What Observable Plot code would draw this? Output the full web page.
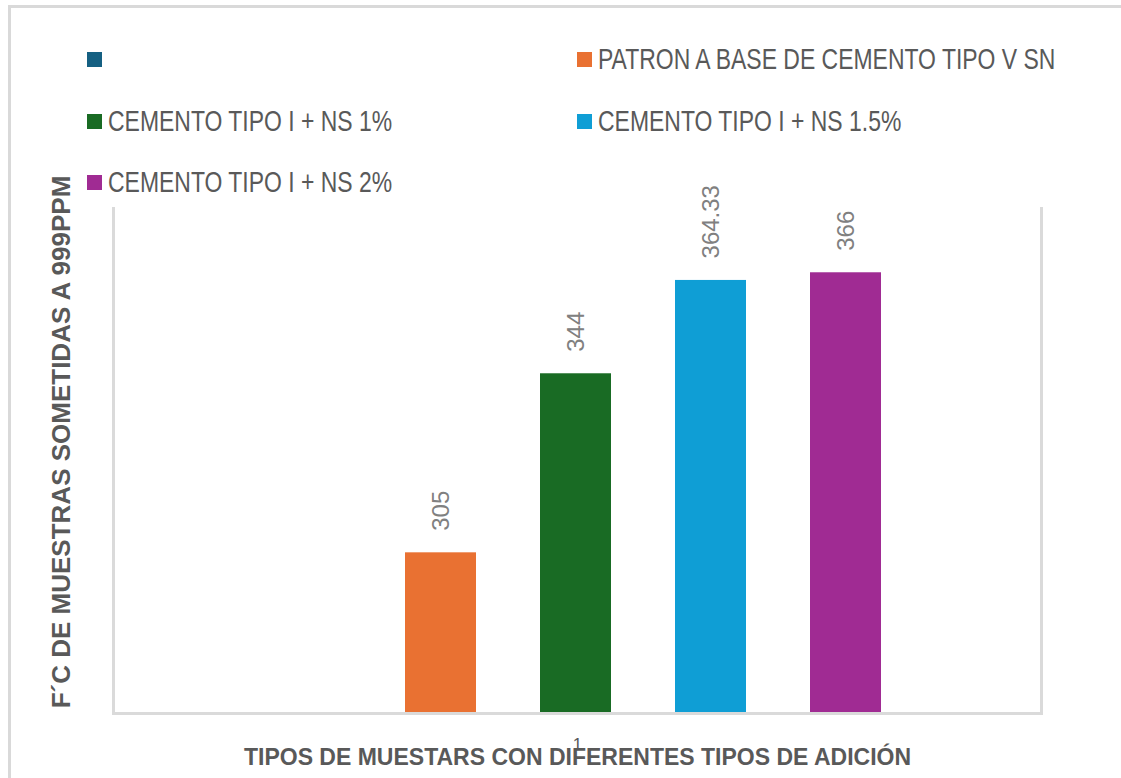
<!DOCTYPE html>
<html><head><meta charset="utf-8">
<script src="https://cdn.jsdelivr.net/npm/d3@7"></script>
<script src="https://cdn.jsdelivr.net/npm/@observablehq/plot@0.6"></script>
<style>
body{margin:0;background:#fff;overflow:hidden;width:1121px;height:778px;position:relative;font-family:"Liberation Sans",Arial,sans-serif;}
#border{position:absolute;left:8px;top:5px;width:1200px;height:900px;border-left:3px solid #d9d9d9;border-top:3px solid #d9d9d9;pointer-events:none;}
#legend{position:relative;height:200px;}
.item{position:absolute;display:flex;align-items:center;color:#595959;font-size:30px;white-space:nowrap;height:36px;}
.sw{width:15px;height:15px;margin-right:6px;flex:none;}
.tx{display:inline-block;transform:scaleX(0.765);transform-origin:0 50%;}
#chart{position:relative;}
</style></head><body>
<div id="border"></div>
<div id="legend"></div>
<div id="chart"></div>
<script>
const categories = ["1"];
const series = ["", "PATRON A BASE DE CEMENTO TIPO V SN", "CEMENTO TIPO I + NS 1%", "CEMENTO TIPO I + NS 1.5%", "CEMENTO TIPO I + NS 2%"];
const values = [null, 305, 344, 364.33, 366];
const labels = ["", "305", "344", "364.33", "366"];
const colors = ["#156082", "#E97132", "#196B24", "#0F9ED5", "#A02B93"];
const yDomain = [270, 380];
const xTitle = "TIPOS DE MUESTARS CON DIFERENTES TIPOS DE ADICIÓN";
const yTitle = "F´C DE MUESTRAS SOMETIDAS A 999PPM";

const rows = series.map((s, i) => ({category: categories[0], series: s, value: values[i], label: labels[i]}));
const present = rows.filter(d => d.value != null);

// legend
const legend = document.getElementById("legend");
const colLeft = [87, 577];
const rowMid = [59, 121, 182];
series.forEach((s, i) => {
  const item = document.createElement("div");
  item.className = "item";
  item.style.left = colLeft[i % 2] + "px";
  item.style.top = (rowMid[Math.floor(i / 2)] - 18) + "px";
  const sw = document.createElement("span");
  sw.className = "sw";
  sw.style.background = colors[i];
  const tx = document.createElement("span");
  tx.className = "tx";
  tx.textContent = s;
  item.appendChild(sw);
  item.appendChild(tx);
  legend.appendChild(item);
});

const chart = Plot.plot({
  width: 1121,
  height: 578,
  marginTop: 8,
  marginBottom: 65,
  marginLeft: 113,
  marginRight: 80,
  style: {fontFamily: "'Liberation Sans',Arial,sans-serif", background: "transparent", overflow: "visible"},
  x: {type: "band", domain: series, paddingInner: 0.476, paddingOuter: 1.1625, align: 0.495, axis: null},
  y: {domain: yDomain, axis: null},
  color: {domain: series, range: colors},
  marks: [
    Plot.barY(present, {x: "series", y1: () => yDomain[0], y2: "value", fill: "series"}),
    Plot.frame({anchor: "left", stroke: "#dadada", strokeWidth: 3}),
    Plot.frame({anchor: "right", stroke: "#dadada", strokeWidth: 3}),
    Plot.frame({anchor: "bottom", stroke: "#dadada", strokeWidth: 3}),
    Plot.text(present, {x: "series", y: "value", text: "label", rotate: -90, textAnchor: "start", lineAnchor: "middle", dy: -22, fill: "#808080", fontSize: 24}),
    Plot.text(categories, {frameAnchor: "bottom", text: d => d, textAnchor: "middle", lineAnchor: "middle", dy: 31, fill: "#595959", fontSize: 17}),
    Plot.text([xTitle], {frameAnchor: "bottom", text: d => d, textAnchor: "middle", lineAnchor: "middle", dy: 44, fill: "#595959", fontSize: 23, fontWeight: "bold"}),
    Plot.text([yTitle], {frameAnchor: "left", text: d => d, textAnchor: "middle", lineAnchor: "middle", dx: -52, dy: -19, rotate: -90, fill: "#595959", fontSize: 26, fontWeight: "bold"})
  ]
});
document.getElementById("chart").appendChild(chart);
</script>
</body></html>
